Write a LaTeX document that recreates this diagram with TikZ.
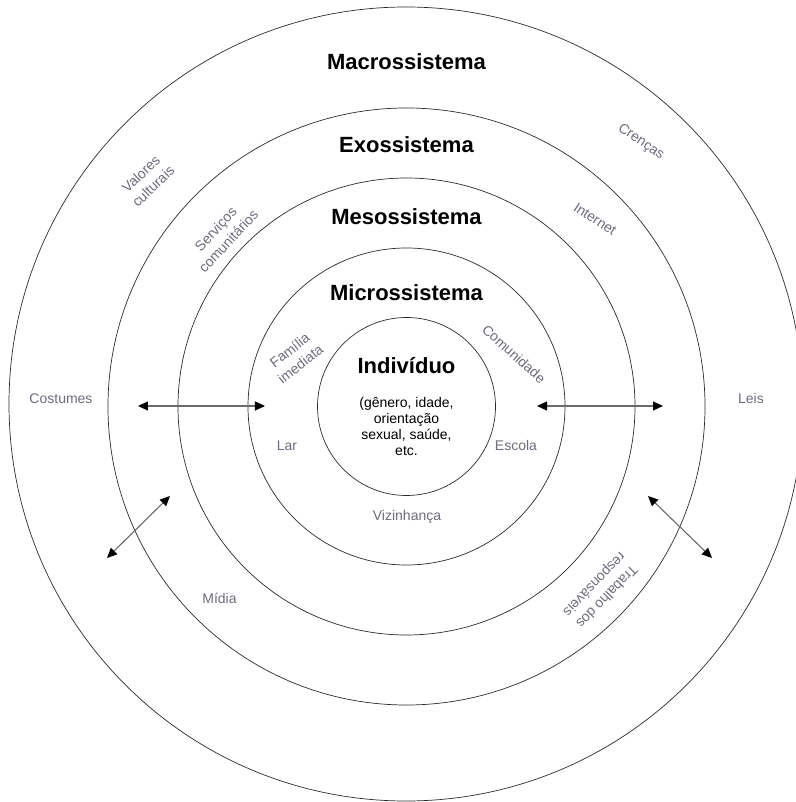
\documentclass[tikz,border=0pt]{standalone}
\usepackage{fontspec}
\setmainfont{Liberation Sans}
\usepackage{xcolor}
\usepackage{tikz}
\usetikzlibrary{positioning, arrows.meta}
\definecolor{labelgray}{HTML}{6F6B7B}
\definecolor{ringgray}{HTML}{2B2B2B}
\definecolor{shaftgray}{HTML}{6A6A6A}
\tikzstyle{ring} = [circle, draw=ringgray, line width=0.7pt, inner sep=0pt, outer sep=0pt]
\tikzstyle{title} = [font=\fontsize{22}{26}\selectfont\bfseries, anchor=base]
\tikzstyle{factor} = [text=labelgray, font=\fontsize{14}{17.5}\selectfont, align=center]
\tikzstyle{link} = [draw=shaftgray, line width=1.1pt,
    {Triangle[length=10pt, width=9pt, color=black]}-{Triangle[length=10pt, width=9pt, color=black]}]

\begin{document}
\begin{tikzpicture}[x=1pt, y=1pt]
        \useasboundingbox (-406.5,-395.5) rectangle (388.5,406.5);
        % Place rings
        \node [ring, minimum size=794pt] (macro) at (-0.5,2.5) {};
        \node [ring, minimum size=597pt] (exo) at (0,0) {};
        \node [ring, minimum size=457pt] (meso) at (0,0) {};
        \node [ring, minimum size=317pt] (micro) at (0,0) {};
        \node [ring, minimum size=178pt] (indiv) at (0,0) {};
        % Titles
        \node [title] (macrotitle) at (0,336.5) {Macrossistema};
        \node [title] (exotitle) at (0,253.5) {Exossistema};
        \node [title] (mesotitle) at (0,181.5) {Mesossistema};
        \node [title] (microtitle) at (0,105.5) {Microssistema};
        \node [title] (indivtitle) at (0,32.5) {Indivíduo};
        \node [align=center, font=\fontsize{14}{16}\selectfont] (traits) at (0,-19.5)
            {(gênero, idade,\\orientação\\sexual, saúde,\\etc.};
        % Factors in each ring
        \node [factor, anchor=base] (costumes) at (-345.5,2.5) {Costumes};
        \node [factor, anchor=base] (leis) at (344.5,2.5) {Leis};
        \node [factor, anchor=base] (lar) at (-119.5,-44.5) {Lar};
        \node [factor, anchor=base] (escola) at (109.5,-44.5) {Escola};
        \node [factor, anchor=base] (vizinhanca) at (0.5,-114) {Vizinhança};
        \node [factor, anchor=base] (midia) at (-187,-196.5) {Mídia};
        \node [factor, rotate=38] (familia) at (-111.5,49.5) {Família\\imediata};
        \node [factor, rotate=-42] (comunidade) at (107.5,52.5) {Comunidade};
        \node [factor, rotate=44] (valores) at (-259.5,226.5) {Valores\\culturais};
        \node [factor, rotate=47] (servicos) at (-184.5,171.5) {Serviços\\comunitários};
        \node [factor, rotate=-34] (crencas) at (234.5,264.5) {Crenças};
        \node [factor, rotate=-33] (internet) at (188.5,187.5) {Internet};
        \node [factor, rotate=226] (trabalho) at (193.5,-183.5) {Trabalho dos\\responsáveis};
        % Arrow ends
        \coordinate (wout) at (-268.5,0.5);
        \coordinate (win) at (-141.5,0.5);
        \coordinate (ein) at (130.5,0.5);
        \coordinate (eout) at (256.5,0.5);
        \coordinate (swout) at (-299.5,-151.5);
        \coordinate (swin) at (-236.5,-89.5);
        \coordinate (sein) at (241.5,-89.5);
        \coordinate (seout) at (305.5,-151.5);
        % Draw arrows
        \path [link] (wout) -- (win);
        \path [link] (ein) -- (eout);
        \path [link] (swout) -- (swin);
        \path [link] (sein) -- (seout);
\end{tikzpicture}
\end{document}
